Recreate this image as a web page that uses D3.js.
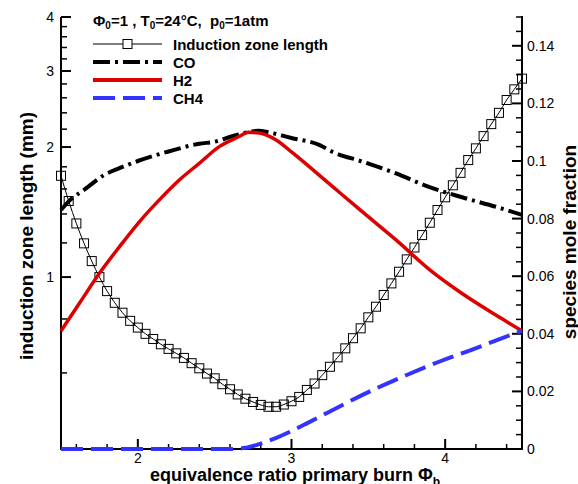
<!DOCTYPE html>
<html>
<head>
<meta charset="utf-8">
<script src="https://cdn.jsdelivr.net/npm/d3@7"></script>
<style>
  html, body { margin: 0; padding: 0; background: #fff; }
  svg { display: block; font-family: "Liberation Sans", Arial, sans-serif; }
</style>
</head>
<body>
<svg id="chart" width="578" height="484"></svg>
<script>
// Equivalence ratio of the primary burn for the induction-zone series (step 0.05)
const phiInduction = [
  1.50, 1.55, 1.60, 1.65, 1.70, 1.75, 1.80, 1.85, 1.90, 1.95,
  2.00, 2.05, 2.10, 2.15, 2.20, 2.25, 2.30, 2.35, 2.40, 2.45,
  2.50, 2.55, 2.60, 2.65, 2.70, 2.75, 2.80, 2.85, 2.90, 2.95,
  3.00, 3.05, 3.10, 3.15, 3.20, 3.25, 3.30, 3.35, 3.40, 3.45,
  3.50, 3.55, 3.60, 3.65, 3.70, 3.75, 3.80, 3.85, 3.90, 3.95,
  4.00, 4.05, 4.10, 4.15, 4.20, 4.25, 4.30, 4.35, 4.40, 4.45, 4.50
];
// Induction zone length (mm)
const inductionLength = [
  1.716, 1.500, 1.331, 1.197, 1.089, 1.000, 0.928, 0.872, 0.827, 0.792,
  0.764, 0.739, 0.719, 0.699, 0.682, 0.666, 0.650, 0.632, 0.615, 0.598,
  0.583, 0.565, 0.550, 0.535, 0.523, 0.514, 0.506, 0.501, 0.501, 0.507,
  0.516, 0.528, 0.548, 0.567, 0.593, 0.620, 0.652, 0.684, 0.722, 0.761,
  0.807, 0.854, 0.909, 0.967, 1.029, 1.099, 1.171, 1.251, 1.336, 1.430,
  1.530, 1.631, 1.743, 1.866, 1.986, 2.120, 2.260, 2.400, 2.570, 2.720, 2.880
];

// Species mole fractions
const phiCO = [1.50, 1.56, 1.65, 1.78, 1.88, 2.00, 2.20, 2.40, 2.50, 2.62, 2.79, 2.88, 3.00, 3.18, 3.27, 3.46, 3.68, 3.89, 4.11, 4.33, 4.50];
const moleCO = [0.0830, 0.0865, 0.0900, 0.0951, 0.0975, 0.1000, 0.1033, 0.1060, 0.1067, 0.1087, 0.1105, 0.1096, 0.1080, 0.1056, 0.1031, 0.0998, 0.0957, 0.0911, 0.0874, 0.0841, 0.0813];

const phiH2 = [1.50, 1.62, 1.75, 1.88, 2.01, 2.14, 2.27, 2.40, 2.53, 2.66, 2.72, 2.79, 2.90, 3.01, 3.14, 3.27, 3.46, 3.68, 3.90, 4.11, 4.33, 4.50];
const moleH2 = [0.0410, 0.0506, 0.0610, 0.0702, 0.0789, 0.0865, 0.0934, 0.0992, 0.1050, 0.1085, 0.1100, 0.1097, 0.1073, 0.1027, 0.0969, 0.0910, 0.0824, 0.0726, 0.0622, 0.0540, 0.0465, 0.0410];

const phiCH4 = [1.50, 2.60, 2.70, 2.79, 2.88, 2.99, 3.10, 3.31, 3.53, 3.75, 3.96, 4.18, 4.35, 4.50];
const moleCH4 = [0.0, 0.0, 0.0004, 0.0017, 0.0034, 0.0060, 0.0089, 0.0147, 0.0205, 0.0257, 0.0303, 0.0346, 0.0381, 0.0410];

// Axis tick values and labels
const xMajorTicks = [2, 3, 4];
const leftMajorTicks = [1, 2, 3, 4];
const rightMajorTicks = [0, 0.02, 0.04, 0.06, 0.08, 0.1, 0.12, 0.14];

const legendNames = ["Induction zone length", "CO", "H2", "CH4"];

// ---------------------------------------------------------------
const svg = d3.select("#chart");
const plot = { left: 61, right: 522, top: 17, bottom: 449 };

const x = d3.scaleLinear().domain([1.5, 4.5]).range([plot.left, plot.right]);
const yLeft = d3.scaleLog().domain([0.4, 4]).range([plot.bottom, plot.top]);
const yRight = d3.scaleLinear().domain([0, 0.15]).range([plot.bottom, plot.top]);

const round = v => Math.round(v * 1000) / 1000;
const xMinor = d3.range(1.6, 4.5, 0.2).map(round).filter(v => !xMajorTicks.some(m => Math.abs(m - v) < 1e-6));
const leftMinor = [0.6, 0.8].concat(d3.range(1.2, 4, 0.2).map(round)).filter(v => !leftMajorTicks.some(m => Math.abs(m - v) < 1e-6));
const rightMinor = d3.range(0.005, 0.1501, 0.005).map(v => Math.round(v * 10000) / 10000).filter(v => !rightMajorTicks.some(m => Math.abs(m - v) < 1e-6));

const tickFont = 14;

// Bottom axis (ticks point into the plot)
const gx = svg.append("g").attr("transform", `translate(0,${plot.bottom})`);
gx.append("line").attr("x1", plot.left - 1).attr("x2", plot.right + 1).attr("stroke", "#000").attr("stroke-width", 2);
gx.selectAll(".xmaj").data(xMajorTicks).join("line")
  .attr("x1", d => x(d)).attr("x2", d => x(d)).attr("y1", 0).attr("y2", -10)
  .attr("stroke", "#000").attr("stroke-width", 2);
gx.selectAll(".xmin").data(xMinor).join("line")
  .attr("x1", d => x(d)).attr("x2", d => x(d)).attr("y1", 0).attr("y2", -5)
  .attr("stroke", "#000").attr("stroke-width", 1.5);
gx.selectAll("text").data(xMajorTicks).join("text")
  .attr("x", d => x(d)).attr("y", 14).attr("text-anchor", "middle")
  .attr("font-size", tickFont).text(d3.format("d"));

// Left log axis
const gl = svg.append("g").attr("transform", `translate(${plot.left},0)`);
gl.append("line").attr("y1", plot.top).attr("y2", plot.bottom + 1).attr("stroke", "#000").attr("stroke-width", 2);
gl.selectAll(".lmaj").data(leftMajorTicks).join("line")
  .attr("y1", d => yLeft(d)).attr("y2", d => yLeft(d)).attr("x1", 0).attr("x2", 10)
  .attr("stroke", "#000").attr("stroke-width", 2);
gl.selectAll(".lmin").data(leftMinor).join("line")
  .attr("y1", d => yLeft(d)).attr("y2", d => yLeft(d)).attr("x1", 0).attr("x2", 6)
  .attr("stroke", "#000").attr("stroke-width", 1.5);
gl.selectAll("text").data(leftMajorTicks).join("text")
  .attr("x", -7).attr("y", d => yLeft(d) + 5).attr("text-anchor", "end")
  .attr("font-size", tickFont).text(d3.format("d"));

// Right linear axis
const gr = svg.append("g").attr("transform", `translate(${plot.right},0)`);
gr.append("line").attr("y1", plot.top - 1).attr("y2", plot.bottom + 1).attr("stroke", "#000").attr("stroke-width", 2);
gr.selectAll(".rmaj").data(rightMajorTicks).join("line")
  .attr("y1", d => yRight(d)).attr("y2", d => yRight(d)).attr("x1", 0).attr("x2", -10)
  .attr("stroke", "#000").attr("stroke-width", 2);
gr.selectAll(".rmin").data(rightMinor).join("line")
  .attr("y1", d => yRight(d)).attr("y2", d => yRight(d)).attr("x1", 0).attr("x2", -6)
  .attr("stroke", "#000").attr("stroke-width", 1.5);
gr.selectAll("text").data(rightMajorTicks).join("text")
  .attr("x", 5).attr("y", d => yRight(d) + 5).attr("text-anchor", "start")
  .attr("font-size", tickFont).text(d => d === 0 ? "0" : String(d));

// Axis titles
svg.append("text")
  .attr("transform", "translate(33,236) rotate(-90)")
  .attr("text-anchor", "middle").attr("font-size", 19).attr("font-weight", "bold")
  .text("induction zone length (mm)");
svg.append("text")
  .attr("transform", "translate(576,242) rotate(-90)")
  .attr("text-anchor", "middle").attr("font-size", 19).attr("font-weight", "bold")
  .text("species mole fraction");
const xt = svg.append("text")
  .attr("x", 150).attr("y", 481)
  .attr("text-anchor", "start").attr("font-size", 18).attr("font-weight", "bold");
xt.append("tspan").text("equivalence ratio primary burn Φ");
xt.append("tspan").attr("dy", 5).attr("font-size", 12).text("b");

// Data layers
const clip = svg.append("clipPath").attr("id", "plotclip").append("rect")
  .attr("x", plot.left - 6).attr("y", plot.top - 6)
  .attr("width", plot.right - plot.left + 12).attr("height", plot.bottom - plot.top + 12);
const layer = svg.append("g").attr("clip-path", "url(#plotclip)");

const indPts = phiInduction.map((p, i) => [p, inductionLength[i]]);
layer.append("path")
  .attr("d", d3.line().x(d => x(d[0])).y(d => yLeft(d[1])).curve(d3.curveMonotoneX)(indPts))
  .attr("fill", "none").attr("stroke", "#000").attr("stroke-width", 1);
const markerSize = 9;
layer.selectAll(".sq").data(indPts).join("rect")
  .attr("x", d => x(d[0]) - markerSize / 2).attr("y", d => yLeft(d[1]) - markerSize / 2)
  .attr("width", markerSize).attr("height", markerSize)
  .attr("fill", "none").attr("stroke", "#000").attr("stroke-width", 1);

const species = [
  { phi: phiCO, val: moleCO, color: "#000000", width: 4, dash: "17,5,3,5" },
  { phi: phiH2, val: moleH2, color: "#dd0000", width: 3.5, dash: null },
  { phi: phiCH4, val: moleCH4, color: "#3333ff", width: 4, dash: "22,8" }
];
const spLine = d3.line().x(d => x(d[0])).y(d => yRight(d[1])).curve(d3.curveMonotoneX);
species.forEach(s => {
  const pts = s.phi.map((p, i) => [p, s.val[i]]);
  layer.append("path").attr("d", spLine(pts))
    .attr("fill", "none").attr("stroke", s.color).attr("stroke-width", s.width)
    .attr("stroke-dasharray", s.dash);
});

// Legend
const lg = svg.append("g").attr("font-weight", "bold").attr("font-size", 15);
const title = lg.append("text").attr("x", 93).attr("y", 26).attr("xml:space", "preserve");
title.append("tspan").text("Φ");
title.append("tspan").attr("dy", 3).attr("font-size", 10).text("0");
title.append("tspan").attr("dy", -3).text("=1 , T");
title.append("tspan").attr("dy", 3).attr("font-size", 10).text("0");
title.append("tspan").attr("dy", -3).text("=24°C,  p");
title.append("tspan").attr("dy", 3).attr("font-size", 10).text("0");
title.append("tspan").attr("dy", -3).text("=1atm");

const rowsY = [44, 62, 80, 98];
const legendStyles = [
  { color: "#000", width: 1, dash: null },
  { color: "#000", width: 4, dash: "17,5,3,5" },
  { color: "#dd0000", width: 4, dash: null },
  { color: "#3333ff", width: 4, dash: "22,8" }
];
legendNames.forEach((name, i) => {
  const st = legendStyles[i];
  lg.append("line").attr("x1", 93).attr("x2", 162).attr("y1", rowsY[i]).attr("y2", rowsY[i])
    .attr("stroke", st.color).attr("stroke-width", st.width).attr("stroke-dasharray", st.dash);
  if (i === 0) {
    lg.append("rect").attr("x", 127.5 - markerSize / 2).attr("y", rowsY[i] - markerSize / 2)
      .attr("width", markerSize).attr("height", markerSize)
      .attr("fill", "#fff").attr("stroke", "#000").attr("stroke-width", 1);
  }
  lg.append("text").attr("x", 173).attr("y", rowsY[i] + 5.5).text(name);
});
</script>
</body>
</html>
